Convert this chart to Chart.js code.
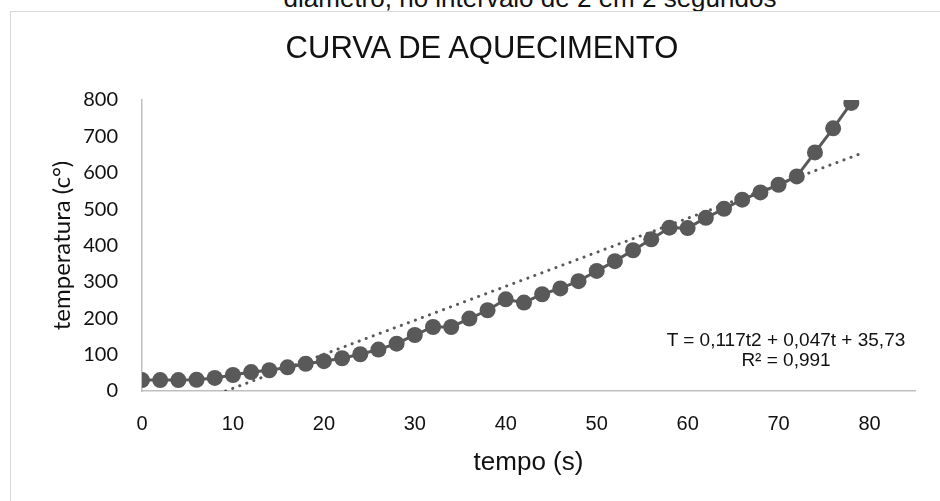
<!DOCTYPE html>
<html>
<head>
<meta charset="utf-8">
<script src="https://cdn.jsdelivr.net/npm/chart.js@4"></script>
<style>
    html, body { margin: 0; padding: 0; background: #fff; overflow: hidden; }
    body { width: 940px; height: 501px; position: relative; font-family: "Liberation Sans", Arial, sans-serif; }
    #top-caption {
        position: absolute; left: 0; width: 1060px; top: -15px;
        text-align: center; font-size: 26px; line-height: 26px; color: #111;
        white-space: nowrap;
    }
    #frame {
        position: absolute; left: 10px; top: 11px; width: 960px; height: 520px;
        border: 1px solid #d9d9d9;
    }
    #chart-wrap { position: absolute; left: 0; top: 0; width: 940px; height: 501px; }
    #titulo {
        position: absolute; left: 282px; width: 400px; top: 32px;
        text-align: center; font-size: 31px; line-height: 31px; color: #111;
        white-space: nowrap;
    }
    .eq {
        position: absolute; left: 626px; width: 320px; text-align: center;
        font-size: 19px; line-height: 20px; color: #111; white-space: nowrap;
    }
</style>
</head>
<body>
<div id="top-caption">diâmetro, no intervalo de 2 em 2 segundos</div>
<div id="frame"></div>
<div id="chart-wrap"><canvas id="curva" width="940" height="501"></canvas></div>
<div id="titulo">CURVA DE AQUECIMENTO</div>
<div class="eq" style="top:330px">T = 0,117t2 + 0,047t + 35,73</div>
<div class="eq" style="top:350px">R² = 0,991</div>
<script>
// tempo (s), de 2 em 2 segundos
const tempo = [0, 2, 4, 6, 8, 10, 12, 14, 16, 18, 20, 22, 24, 26, 28, 30, 32, 34, 36, 38,
               40, 42, 44, 46, 48, 50, 52, 54, 56, 58, 60, 62, 64, 66, 68, 70, 72, 74, 76, 78];
// temperatura
const temperatura = [30, 30, 30, 31, 36, 44, 52, 57, 65, 75, 82, 90, 101, 114, 130, 154, 176, 176, 199, 222,
                     252, 243, 266, 282, 302, 330, 357, 387, 417, 449, 448, 476, 501, 526, 546, 567, 590, 656, 722, 792];
// linha de tendência (extremos visíveis)
const tendenciaT = [9.2, 79.4];
const tendenciaV = [0, 656];

const cinza = "#595959";
const arial = "'Liberation Sans', Arial, sans-serif";
const calibri = "Lato, 'Liberation Sans', sans-serif";

const pontos = tempo.map((t, i) => ({ x: t, y: temperatura[i] }));
const tendencia = tendenciaT.map((t, i) => ({ x: t, y: tendenciaV[i] }));

const ctx = document.getElementById("curva").getContext("2d");
new Chart(ctx, {
    type: "scatter",
    data: {
        datasets: [
            {
                label: "tendência",
                data: tendencia,
                showLine: true,
                borderColor: cinza,
                borderWidth: 3,
                borderDash: [0.1, 7.4],
                borderCapStyle: "round",
                pointRadius: 0,
                order: 2
            },
            {
                label: "temperatura",
                data: pontos,
                showLine: true,
                borderColor: cinza,
                borderWidth: 3,
                backgroundColor: cinza,
                pointRadius: 8,
                pointBorderWidth: 0,
                pointBackgroundColor: cinza,
                order: 1
            }
        ]
    },
    options: {
        responsive: false,
        animation: false,
        layout: { padding: { left: 0, right: 25, top: 100, bottom: 0 } },
        plugins: {
            legend: { display: false },
            tooltip: { enabled: false }
        },
        scales: {
            x: {
                type: "linear",
                min: 0,
                max: 85,
                grid: { display: false, drawTicks: false },
                border: { display: true, color: "#bfbfbf", width: 1.5 },
                ticks: {
                    stepSize: 10,
                    includeBounds: false,
                    padding: 21,
                    color: "#111",
                    font: { family: arial, size: 20 }
                },
                title: {
                    display: true,
                    text: "tempo (s)",
                    color: "#111",
                    font: { family: arial, size: 26 },
                    padding: { top: 4, bottom: 23 }
                },
                afterFit: s => { s.height = 110; }
            },
            y: {
                min: 0,
                max: 800,
                grid: { display: false, drawTicks: false },
                border: { display: true, color: "#bfbfbf", width: 1.5 },
                ticks: {
                    stepSize: 100,
                    padding: 24,
                    color: "#111",
                    font: { family: calibri, size: 20 }
                },
                title: {
                    display: true,
                    text: "temperatura (c°)",
                    color: "#111",
                    font: { family: calibri, size: 24 },
                    padding: { top: 48, bottom: 4 }
                },
                afterFit: s => { s.width = 142; }
            }
        }
    }
});
</script>
</body>
</html>
